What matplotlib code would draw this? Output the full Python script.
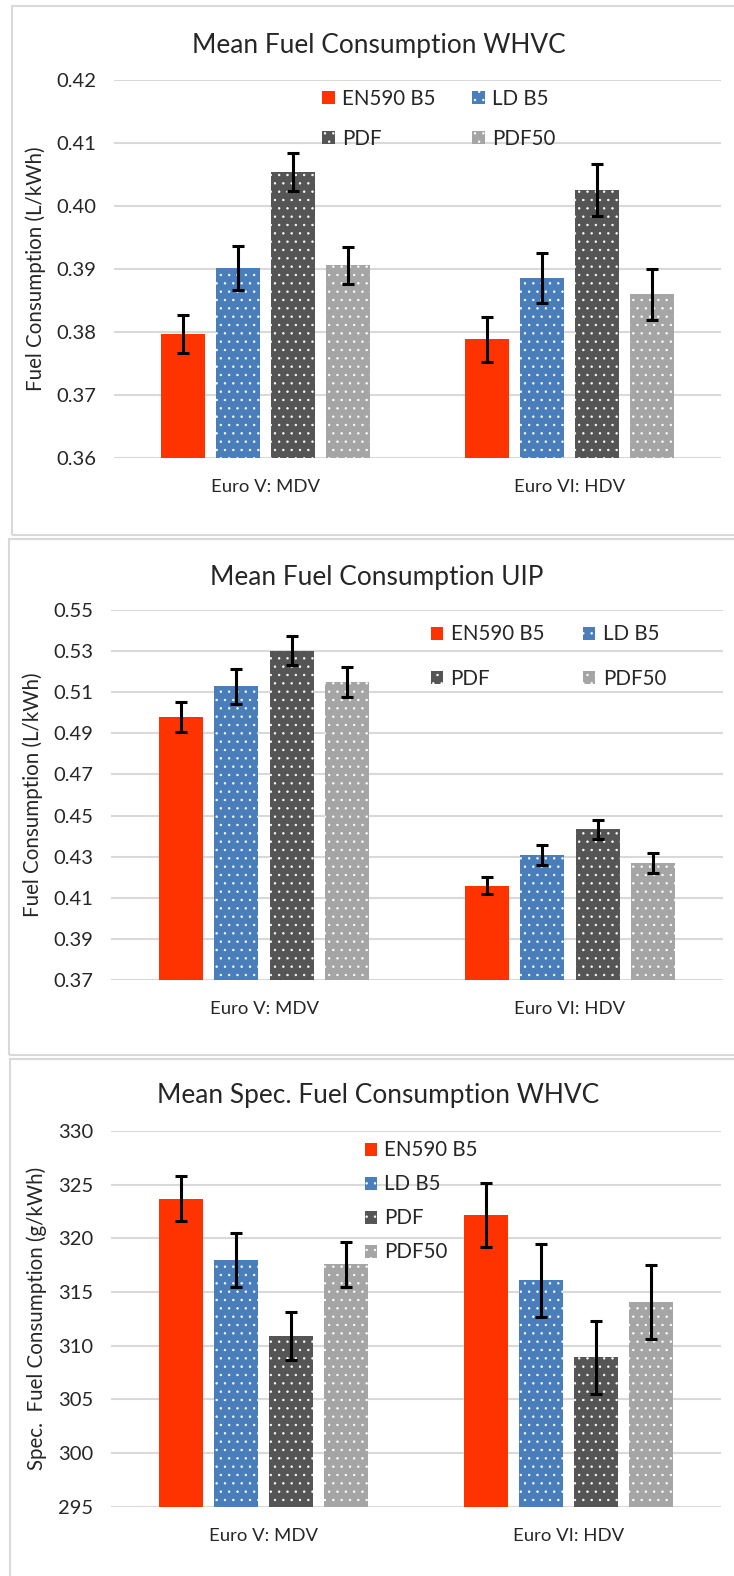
import matplotlib
matplotlib.use("Agg")
import matplotlib.pyplot as plt
from matplotlib.patches import Rectangle
import numpy as np

plt.rcParams["font.family"] = ["Lato", "DejaVu Sans"]
plt.rcParams["hatch.linewidth"] = 0.5

FIG_W, FIG_H, DPI = 734, 1576, 100

groups = ["Euro V: MDV", "Euro VI: HDV"]
fuels = ["EN590 B5", "LD B5", "PDF", "PDF50"]
fuel_colors = ["#ff3300", "#4a7ebb", "#555555", "#a5a5a5"]
fuel_hatches = [None, "..", "..", ".."]

# WHVC, volumetric (L/kWh): one row per fuel, one column per engine
whvc_mean = [[0.3796, 0.3788],
             [0.3901, 0.3885],
             [0.4053, 0.4025],
             [0.3905, 0.3859]]
whvc_err = [[0.0030, 0.0036],
            [0.0035, 0.0040],
            [0.0030, 0.0041],
            [0.0030, 0.0040]]
whvc_ticks = [0.36, 0.37, 0.38, 0.39, 0.40, 0.41, 0.42]

# UIP, volumetric (L/kWh)
uip_mean = [[0.4978, 0.4160],
            [0.5127, 0.4310],
            [0.5300, 0.4433],
            [0.5148, 0.4270]]
uip_err = [[0.0072, 0.0041],
           [0.0084, 0.0049],
           [0.0071, 0.0048],
           [0.0071, 0.0049]]
uip_ticks = [0.37, 0.39, 0.41, 0.43, 0.45, 0.47, 0.49, 0.51, 0.53, 0.55]

# WHVC, specific (g/kWh)
spec_mean = [[323.7, 322.2],
             [318.0, 316.1],
             [310.9, 308.9],
             [317.6, 314.1]]
spec_err = [[2.1, 3.0],
            [2.5, 3.4],
            [2.2, 3.4],
            [2.1, 3.45]]
spec_ticks = [295, 300, 305, 310, 315, 320, 325, 330]

GRID = "#d9d9d9"
TEXT = "#262626"


def fx(px):
    return px / FIG_W


def fy(px):
    return 1 - px / FIG_H


def add_panel(fig, left, top, bottom):
    # light grey frame around each chart, open on the right like the source
    fig.add_artist(Rectangle((fx(left), fy(bottom)), 1.2, fy(top) - fy(bottom),
                             transform=fig.transFigure, fill=False,
                             edgecolor=GRID, linewidth=1.5))


def bar_chart(fig, box, title, title_xy, ylabel, ylabel_x, means, errs, ticks, fmt,
              legend_kw, row_wise=True):
    left, right, top, bottom = box
    ax = fig.add_axes([fx(left), fy(bottom), fx(right) - fx(left), fy(top) - fy(bottom)])
    x = np.arange(len(groups))
    step, width = 0.181, 0.145
    handles = []
    for i, fuel in enumerate(fuels):
        pos = x + (i - 1.5) * step
        bars = ax.bar(pos, means[i], width, color=fuel_colors[i], edgecolor="white",
                      linewidth=0, hatch=fuel_hatches[i], label=fuel, zorder=2)
        handles.append(bars)
        ax.errorbar(pos, means[i], yerr=errs[i], fmt="none", ecolor="black",
                    elinewidth=2.2, capsize=4, capthick=2.2, zorder=3)

    ax.set_xlim(-0.5, 1.5)
    ax.set_ylim(ticks[0], ticks[-1])
    ax.set_yticks(ticks)
    ax.set_yticklabels([fmt.format(t) for t in ticks])
    ax.set_xticks(x)
    ax.set_xticklabels(groups)
    ax.tick_params(axis="y", length=0, pad=13, labelsize=14.5, labelcolor=TEXT)
    ax.tick_params(axis="x", length=0, pad=15, labelsize=13.3, labelcolor=TEXT)
    for s in ax.spines.values():
        s.set_visible(False)
    ax.grid(axis="y", color=GRID, linewidth=1.5, zorder=0)
    ax.set_axisbelow(True)

    fig.text(fx(title_xy[0]), fy(title_xy[1]), title,
             ha="center", va="center", fontsize=18.9, color=TEXT)
    fig.text(fx(ylabel_x), 0.5 * (fy(top) + fy(bottom)), ylabel, rotation=90,
             ha="center", va="center", fontsize=14.8, color=TEXT)

    # legend reads row by row in the source (EN590 B5, LD B5 / PDF, PDF50)
    order = [0, 2, 1, 3] if row_wise else [0, 1, 2, 3]
    ax.legend([handles[k] for k in order], [fuels[k] for k in order],
              frameon=False, fontsize=14.8, handlelength=0.6, handleheight=0.6,
              handletextpad=0.35, borderpad=0, borderaxespad=0,
              labelcolor=TEXT, **legend_kw)
    return ax


fig = plt.figure(figsize=(FIG_W / DPI, FIG_H / DPI), dpi=DPI)

add_panel(fig, 12, 6, 535)
add_panel(fig, 9, 539, 1055)
add_panel(fig, 10, 1059, 1700)

bar_chart(fig, (114, 721, 79.6, 457.7), "Mean Fuel Consumption WHVC", (379, 46),
          "Fuel Consumption (L/kWh)", 36, whvc_mean, whvc_err, whvc_ticks, "{:.2f}",
          dict(ncol=2, loc="upper left", bbox_to_anchor=(0.343, 0.975),
               columnspacing=1.8, labelspacing=0.95))

bar_chart(fig, (111, 723, 609.6, 980.4), "Mean Fuel Consumption UIP", (377, 577),
          "Fuel Consumption (L/kWh)", 33, uip_mean, uip_err, uip_ticks, "{:.2f}",
          dict(ncol=2, loc="upper left", bbox_to_anchor=(0.523, 0.96),
               columnspacing=1.9, labelspacing=1.2))

bar_chart(fig, (111, 721, 1131, 1506.7), "Mean Spec. Fuel Consumption WHVC", (378, 1096),
          "Spec.  Fuel Consumption (g/kWh)", 37, spec_mean, spec_err, spec_ticks, "{:.0f}",
          dict(ncol=1, loc="upper left", bbox_to_anchor=(0.416, 0.975),
               labelspacing=0.68), row_wise=False)

fig.savefig("out.png", dpi=DPI)
